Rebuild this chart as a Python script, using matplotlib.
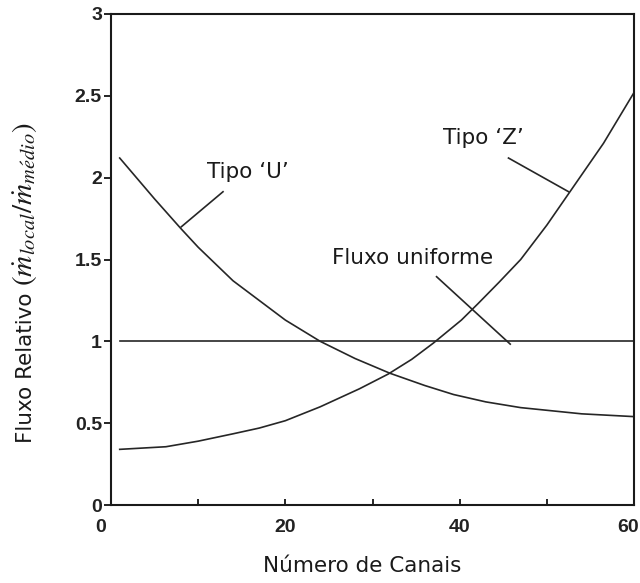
import matplotlib
matplotlib.use("Agg")
import matplotlib.pyplot as plt
import matplotlib.transforms as mtransforms

# ---- data ----
u_x = [1, 5, 8, 10, 14, 20, 24, 28, 32, 36, 39.3, 43, 47, 54, 60]
u_y = [2.12, 1.87, 1.69, 1.575, 1.37, 1.13, 1.00, 0.895, 0.805, 0.73, 0.675, 0.63, 0.595, 0.557, 0.54]

z_x = [1, 6.3, 10, 14, 17, 20, 24, 28.5, 31.8, 34.5, 37, 40.2, 42.1, 44.5, 47, 50, 52.6, 56.5, 60]
z_y = [0.34, 0.356, 0.39, 0.435, 0.47, 0.515, 0.60, 0.71, 0.80, 0.89, 0.99, 1.13, 1.23, 1.36, 1.50, 1.71, 1.91, 2.21, 2.52]

f_x = [1, 60]
f_y = [1.0, 1.0]

x_ticks = [0, 20, 40, 60]
x_minor = [10, 30, 50]
y_ticks = [0, 0.5, 1, 1.5, 2, 2.5, 3]
y_ticklabels = ["0", "0.5", "1", "1.5", "2", "2.5", "3"]

labels = ["Tipo \u2018U\u2019", "Tipo \u2018Z\u2019", "Fluxo uniforme"]

plt.rcParams['mathtext.fontset'] = 'stix'

fig = plt.figure(figsize=(6.4, 5.83), dpi=100)
ax = fig.add_axes([111/640, 1 - 505/583, 523/640, 491/583])

lc = '#262626'
ax.plot(u_x, u_y, color=lc, lw=1.2)
ax.plot(z_x, z_y, color=lc, lw=1.2)
ax.plot(f_x, f_y, color=lc, lw=1.2)

ax.set_xlim(0, 60)
ax.set_ylim(0, 3)

for s in ax.spines.values():
    s.set_linewidth(1.5)
    s.set_color('#1a1a1a')

tickfont = dict(family='Liberation Sans', weight='bold', size=14, color='#222222')
ax.set_xticks(x_ticks)
ax.set_xticks(x_minor, minor=True)
ax.set_xticklabels([str(v) for v in x_ticks], **tickfont)
ax.set_yticks(y_ticks)
ax.set_yticklabels(y_ticklabels, **tickfont)
ax.tick_params(axis='x', which='both', direction='in', length=4, width=1.2, pad=10)
ax.tick_params(axis='y', which='both', direction='out', length=5, width=1.2, pad=1.5)

# first and last x tick labels are shifted in the reference
xl = ax.get_xticklabels()
xl[0].set_transform(xl[0].get_transform() + mtransforms.ScaledTranslation(-10/100, 0, fig.dpi_scale_trans))
xl[-1].set_transform(xl[-1].get_transform() + mtransforms.ScaledTranslation(-6/100, 0, fig.dpi_scale_trans))

txtfont = dict(family='DejaVu Sans', size=15.5, color='#1a1a1a')

# annotations
ax.text(15.75, 2.036, labels[0], ha='center', va='center', **txtfont)
ax.plot([12.85, 8.07], [1.914, 1.70], color=lc, lw=1.2)
ax.text(42.7, 2.24, labels[1], ha='center', va='center', **txtfont)
ax.plot([45.6, 52.5], [2.12, 1.914], color=lc, lw=1.2)
ax.text(34.6, 1.507, labels[2], ha='center', va='center', **txtfont)
ax.plot([37.35, 45.8], [1.395, 0.983], color=lc, lw=1.2)

# axis labels
fig.text(362/640, 1 - 566/583, "N\u00famero de Canais", ha='center', va='center', **txtfont)
fig.text(26/640, 1 - 443/583, "Fluxo Relativo",
         rotation=90, ha='center', va='bottom', **txtfont)
fig.text(25/640, 1 - 286/583, r"$(\dot{m}_{local}/\dot{m}_{m\acute{e}dio})$",
         rotation=90, ha='center', va='bottom', family='DejaVu Sans', size=21, color='#1a1a1a')

fig.savefig("out.png", dpi=100)
